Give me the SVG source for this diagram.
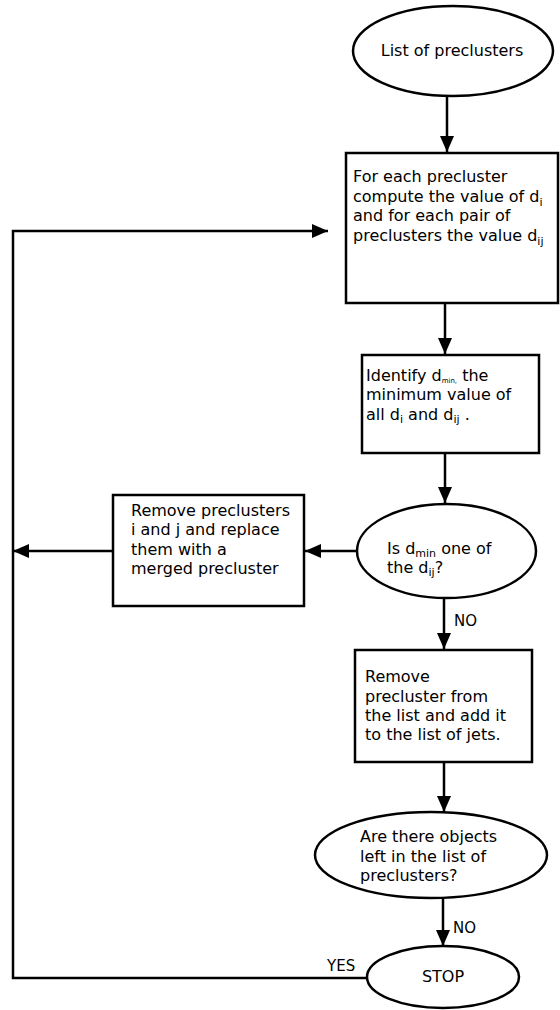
<svg xmlns="http://www.w3.org/2000/svg" width="560" height="1010" viewBox="0 0 560 1010">
<defs>
<marker id="ah" markerWidth="16" markerHeight="14" refX="16" refY="7" orient="auto" markerUnits="userSpaceOnUse">
<path d="M0,0 L16,7 L0,14 Z" fill="#000"/>
</marker>
<style>
.s{fill:#fff;stroke:#000;stroke-width:2.5}
.c{fill:none;stroke:#000;stroke-width:2.5}
text{font-family:"DejaVu Sans",sans-serif;font-size:16px;fill:#000}
.sub{font-size:11px}
.tiny{font-size:7px}
.lbl{font-size:15px}
</style>
</defs>
<rect width="560" height="1010" fill="#fff"/>
<g id="connectors">
<line class="c" x1="447" y1="97" x2="447" y2="152" marker-end="url(#ah)"/>
<line class="c" x1="445" y1="304" x2="445" y2="354" marker-end="url(#ah)"/>
<line class="c" x1="445" y1="453" x2="445" y2="503" marker-end="url(#ah)"/>
<line class="c" x1="357" y1="551" x2="305" y2="551" marker-end="url(#ah)"/>
<line class="c" x1="113" y1="551" x2="13" y2="551" marker-end="url(#ah)"/>
<line class="c" x1="444" y1="598" x2="444" y2="649" marker-end="url(#ah)"/>
<line class="c" x1="444" y1="762" x2="444" y2="812" marker-end="url(#ah)"/>
<line class="c" x1="443" y1="898" x2="443" y2="946" marker-end="url(#ah)"/>
<polyline class="c" points="368,978 13,978 13,231 328,231" marker-end="url(#ah)"/>
<text class="lbl" x="454" y="626">NO</text>
<text class="lbl" x="453" y="933">NO</text>
<text class="lbl" x="327" y="971">YES</text>
</g>
<g id="start">
<ellipse class="s" cx="453" cy="51" rx="100" ry="45"/>
<text x="452" y="56" text-anchor="middle">List of preclusters</text>
</g>
<g id="compute">
<rect class="s" x="346" y="153" width="212" height="150"/>
<text x="353" y="182">For each precluster</text>
<text x="353" y="202">compute the value of d<tspan class="sub" dy="4">i</tspan></text>
<text x="353" y="221">and for each pair of</text>
<text x="353" y="241">preclusters the value d<tspan class="sub" dy="4">ij</tspan></text>
</g>
<g id="identify">
<rect class="s" x="362" y="355" width="177" height="98"/>
<text x="366" y="381">Identify d<tspan class="tiny" dy="2">min,</tspan><tspan dy="-2"> the</tspan></text>
<text x="366" y="400">minimum value of</text>
<text x="366" y="420">all d<tspan class="sub" dy="3">i</tspan><tspan dy="-3"> and d</tspan><tspan class="sub" dy="3">ij</tspan><tspan dy="-3"> .</tspan></text>
</g>
<g id="decision1">
<ellipse class="s" cx="446.5" cy="551" rx="89.5" ry="47"/>
<text x="387" y="554">Is d<tspan class="sub" dy="3">min</tspan><tspan dy="-3"> one of</tspan></text>
<text x="387" y="573">the d<tspan class="sub" dy="3">ij</tspan><tspan dy="-3">?</tspan></text>
</g>
<g id="merge">
<rect class="s" x="113" y="495" width="191" height="111"/>
<text x="131" y="516">Remove preclusters</text>
<text x="131" y="535">i and j and replace</text>
<text x="131" y="555">them with a</text>
<text x="131" y="574">merged precluster</text>
</g>
<g id="removejet">
<rect class="s" x="355" y="650" width="177" height="112"/>
<text x="365" y="682">Remove</text>
<text x="365" y="702">precluster from</text>
<text x="365" y="721">the list and add it</text>
<text x="365" y="740">to the list of jets.</text>
</g>
<g id="decision2">
<ellipse class="s" cx="431" cy="855" rx="116" ry="43"/>
<text x="360" y="842">Are there objects</text>
<text x="360" y="862">left in the list of</text>
<text x="360" y="881">preclusters?</text>
</g>
<g id="stop">
<ellipse class="s" cx="443" cy="977" rx="76" ry="31"/>
<text x="443" y="982" text-anchor="middle">STOP</text>
</g>
</svg>
